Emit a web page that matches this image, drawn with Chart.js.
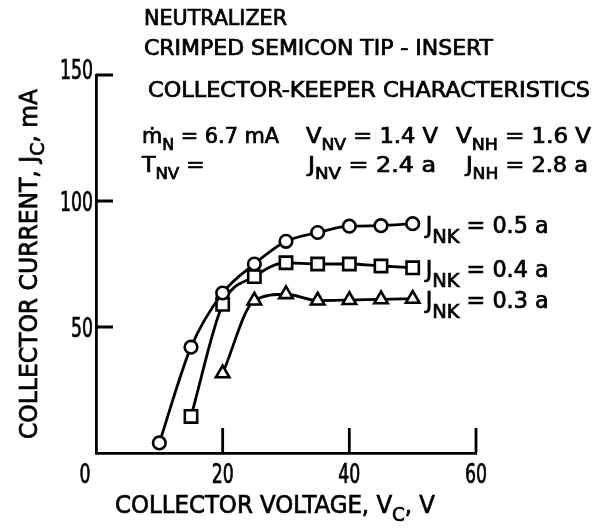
<!DOCTYPE html>
<html>
<head>
<meta charset="utf-8">
<script src="https://cdn.jsdelivr.net/npm/chart.js@4/dist/chart.umd.min.js"></script>
<style>
  html, body { margin: 0; padding: 0; background: #fff; }
  #wrap { width: 600px; height: 530px; }
</style>
</head>
<body>
<div id="wrap"><canvas id="chart" width="600" height="530"></canvas></div>
<script>
"use strict";

// --- data -------------------------------------------------------------
const VOLTS_05 = [10, 15, 20, 25, 30, 35, 40, 45, 50];
const AMPS_05  = [4, 42, 63.5, 75, 84, 87.5, 90, 90.2, 91];
const VOLTS_04 = [15, 20, 25, 30, 35, 40, 45, 50];
const AMPS_04  = [14.5, 59, 70, 75.5, 75, 75, 74.2, 73.5];
const VOLTS_03 = [20, 25, 30, 35, 40, 45, 50];
const AMPS_03  = [31.6, 60.5, 63, 60.5, 60.7, 61, 61.2];

const KEEPER_CURRENTS = ["0.5", "0.4", "0.3"];
const X_TICKS = [0, 20, 40, 60];
const Y_TICKS = [50, 100, 150];

const TITLE_LINES = [
  "NEUTRALIZER",
  "CRIMPED SEMICON TIP - INSERT",
  "COLLECTOR-KEEPER CHARACTERISTICS",
];

const FONT = '"DejaVu Sans Condensed", "Liberation Sans Narrow", "DejaVu Sans", sans-serif';
const LW = 2.8;

const pts = (xs, ys) => xs.map((x, i) => ({ x, y: ys[i] }));

// draws a run of [text, isSub] pieces, stretched horizontally either to a
// target width or by a fixed factor; returns the end x
function drawRich(ctx, x, y, parts, o) {
  const size = o.size, sub = o.sub || size * 0.76, dy = o.dy ?? size * 0.3;
  let w = 0;
  for (const [txt, isSub] of parts) {
    ctx.font = `${isSub ? sub : size}px ${FONT}`;
    w += ctx.measureText(txt).width;
  }
  const hs = o.width ? o.width / w : (o.stretch || 1);
  ctx.save();
  ctx.translate(x, y);
  ctx.scale(hs, 1);
  ctx.lineWidth = 0.7;
  ctx.strokeStyle = "#000";
  let cx = 0;
  for (const [txt, isSub] of parts) {
    ctx.font = `${isSub ? sub : size}px ${FONT}`;
    const ty = isSub ? dy : 0;
    ctx.fillText(txt, cx, ty);
    ctx.strokeText(txt, cx, ty);
    cx += ctx.measureText(txt).width;
  }
  ctx.restore();
  return x + w * hs;
}

// inward tick marks + tick labels, placed from the scales' own ticks
const axisDecor = {
  id: "axisDecor",
  afterDraw(chart) {
    const { ctx, chartArea: a } = chart;
    const xs = chart.scales.x, ys = chart.scales.y;
    ctx.save();
    ctx.strokeStyle = "#000";
    ctx.lineWidth = LW;
    ctx.beginPath();
    xs.ticks.forEach((t) => {
      if (t.value === 0) return;
      const px = xs.getPixelForValue(t.value);
      ctx.moveTo(px, a.bottom);
      ctx.lineTo(px, a.bottom - 25);
    });
    ys.ticks.forEach((t) => {
      const py = ys.getPixelForValue(t.value);
      ctx.moveTo(a.left, py);
      ctx.lineTo(a.left + 17, py);
    });
    ctx.stroke();

    ctx.fillStyle = "#000";
    ctx.textBaseline = "alphabetic";
    ctx.font = `26px ${FONT}`;
    const TS = 0.74;
    xs.ticks.forEach((t) => {
      const label = String(t.value);
      const w = ctx.measureText(label).width * TS;
      let px = xs.getPixelForValue(t.value);
      if (t.value === 0) px -= 11;
      drawRich(ctx, px - w / 2, a.bottom + 30, [[label, 0]], { size: 26, stretch: TS });
    });
    ys.ticks.forEach((t) => {
      const label = String(t.value);
      ctx.font = `26px ${FONT}`;
      const w = ctx.measureText(label).width * TS;
      let py = ys.getPixelForValue(t.value) + 9.5;
      if (t.value === 150) py -= 6;
      drawRich(ctx, a.left - 3 - w, py, [[label, 0]], { size: 26, stretch: TS });
    });
    ctx.restore();
  },
};

// header, axis titles and curve labels
const annotations = {
  id: "annotations",
  afterDraw(chart) {
    const { ctx, chartArea: a } = chart;
    ctx.save();
    ctx.fillStyle = "#000";
    ctx.textBaseline = "alphabetic";
    ctx.textAlign = "left";

    // title block
    drawRich(ctx, 144, 25, [[TITLE_LINES[0], 0]], { size: 21, width: 143 });
    drawRich(ctx, 144, 55, [[TITLE_LINES[1], 0]], { size: 21, width: 349 });
    drawRich(ctx, 148, 97, [[TITLE_LINES[2], 0]], { size: 22, width: 442 });

    // operating conditions
    const P = { size: 21, sub: 16, dy: 6.5, stretch: 1.16 };
    drawRich(ctx, 142, 143, [["ṁ", 0], ["N", 1], [" = 6.7 mA", 0]], { ...P, width: 137 });
    drawRich(ctx, 306, 143, [["V", 0], ["NV", 1], [" = 1.4 V", 0]], { ...P, width: 132 });
    drawRich(ctx, 456, 143, [["V", 0], ["NH", 1], [" = 1.6 V", 0]], { ...P, width: 135 });
    drawRich(ctx, 142, 172, [["T", 0], ["NV", 1], [" =", 0]], P);
    drawRich(ctx, 308, 172, [["J", 0], ["NV", 1], [" = 2.4 a", 0]], { ...P, width: 128 });
    drawRich(ctx, 466, 172, [["J", 0], ["NH", 1], [" = 2.8 a", 0]], { ...P, width: 122 });

    // curve labels next to the last point of each series
    chart.data.datasets.forEach((ds, i) => {
      const meta = chart.getDatasetMeta(i);
      const last = meta.data[meta.data.length - 1];
      drawRich(ctx, last.x + 13, last.y + 9,
        [["J", 0], ["NK", 1], [" = " + KEEPER_CURRENTS[i] + " a", 0]],
        { size: 23, sub: 20, dy: 10, width: 123 });
    });

    // x axis title
    const XW = 320;
    drawRich(ctx, (a.left + a.right) / 2 - 11 - XW / 2, 513,
      [["COLLECTOR VOLTAGE, V", 0], ["C", 1], [", V", 0]],
      { size: 25, sub: 20, dy: 8, width: XW });

    // y axis title
    const YW = 350;
    ctx.translate(37, (a.top + a.bottom) / 2);
    ctx.rotate(-Math.PI / 2);
    drawRich(ctx, -YW / 2, 0,
      [["COLLECTOR CURRENT, J", 0], ["C", 1], [", mA", 0]],
      { size: 25, sub: 20, dy: 7, width: YW });
    ctx.restore();
  },
};

const seriesStyle = (pointStyle, radius) => ({
  showLine: true,
  borderColor: "#000",
  borderWidth: LW,
  cubicInterpolationMode: "monotone",
  pointStyle,
  pointRadius: radius,
  pointBorderWidth: 2.6,
  pointBackgroundColor: "#fff",
  pointBorderColor: "#000",
});

new Chart(document.getElementById("chart"), {
  type: "scatter",
  data: {
    datasets: [
      { data: pts(VOLTS_05, AMPS_05), ...seriesStyle("circle", 6.3) },
      { data: pts(VOLTS_04, AMPS_04), ...seriesStyle("rect", 8.7) },
      { data: pts(VOLTS_03, AMPS_03), ...seriesStyle("triangle", 7.8) },
    ],
  },
  options: {
    responsive: false,
    animation: false,
    events: [],
    layout: { padding: { left: 0, top: 75, right: 124, bottom: 0 } },
    plugins: { legend: { display: false }, tooltip: { enabled: false } },
    scales: {
      x: {
        type: "linear",
        min: 0,
        max: 60,
        afterBuildTicks: (s) => { s.ticks = X_TICKS.map((v) => ({ value: v })); },
        afterFit: (s) => { s.height = 77; },
        grid: { display: false, drawTicks: false },
        border: { display: true, color: "#000", width: LW },
        ticks: { display: false },
      },
      y: {
        type: "linear",
        min: 0,
        max: 150,
        afterBuildTicks: (s) => { s.ticks = Y_TICKS.map((v) => ({ value: v })); },
        afterFit: (s) => { s.width = 96; },
        grid: { display: false, drawTicks: false },
        border: { display: true, color: "#000", width: LW },
        ticks: { display: false },
      },
    },
  },
  plugins: [axisDecor, annotations],
});
</script>
</body>
</html>
